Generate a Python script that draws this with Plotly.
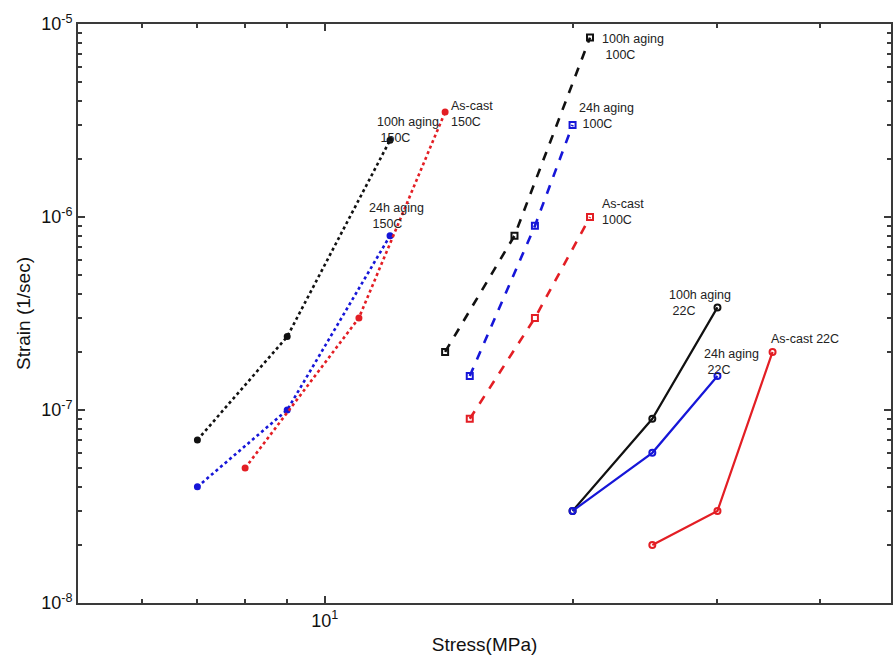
import math
import plotly.graph_objects as go

# Creep data: stress (MPa) vs. strain rate (1/sec)
stress_150_100h = [7, 9, 12]
rate_150_100h = [7e-8, 2.4e-7, 2.5e-6]
stress_150_24h = [7, 9, 12]
rate_150_24h = [4e-8, 1e-7, 8e-7]
stress_150_cast = [8, 11, 14]
rate_150_cast = [5e-8, 3e-7, 3.5e-6]

stress_100_100h = [14, 17, 21]
rate_100_100h = [2e-7, 8e-7, 8.5e-6]
stress_100_24h = [15, 18, 20]
rate_100_24h = [1.5e-7, 9e-7, 3e-6]
stress_100_cast = [15, 18, 21]
rate_100_cast = [9e-8, 3e-7, 1e-6]

stress_22_100h = [20, 25, 30]
rate_22_100h = [3e-8, 9e-8, 3.4e-7]
stress_22_24h = [20, 25, 30]
rate_22_24h = [3e-8, 6e-8, 1.5e-7]
stress_22_cast = [25, 30, 35]
rate_22_cast = [2e-8, 3e-8, 2e-7]

labels = [
    "100h aging<br>\u00a0150C", "24h aging<br>\u00a0150C", "As-cast<br>150C",
    "100h aging<br>\u00a0100C", "24h aging<br>\u00a0100C", "As-cast<br>100C",
    "100h aging<br>\u00a022C", "24h aging<br>\u00a022C", "As-cast 22C",
]

y_tickvals = [1e-8, 1e-7, 1e-6, 1e-5]
y_ticktext = ["10<sup>-8</sup>", "10<sup>-7</sup>", "10<sup>-6</sup>", "10<sup>-5</sup>"]
x_tickvals = [10]
x_ticktext = ["10<sup>1</sup>"]

BLACK = "#111111"
BLUE = "#1616d8"
RED = "#e31e24"
FONT = "Arial, Liberation Sans, sans-serif"

series = [
    (stress_150_100h, rate_150_100h, BLACK, "dot", "circle", 5),
    (stress_150_24h, rate_150_24h, BLUE, "dot", "circle", 5),
    (stress_150_cast, rate_150_cast, RED, "dot", "circle", 5),
    (stress_100_100h, rate_100_100h, BLACK, "dash", "square-open", 6),
    (stress_100_24h, rate_100_24h, BLUE, "dash", "square-open", 6),
    (stress_100_cast, rate_100_cast, RED, "dash", "square-open", 6),
    (stress_22_100h, rate_22_100h, BLACK, "solid", "circle-open", 6),
    (stress_22_24h, rate_22_24h, BLUE, "solid", "circle-open", 6),
    (stress_22_cast, rate_22_cast, RED, "solid", "circle-open", 6),
]

# label offsets (px) from each series' last point
offsets = [
    (-15, 10), (-23, 20), (4, -2),
    (10, -9), (4, 9), (10, 5),
    (-50, 4), (-15, 14), (-4, 13),
]

fig = go.Figure()
for (xs, ys, color, dash, symbol, msize) in series:
    lw = 2.6 if dash != "solid" else 2.2
    fig.add_trace(go.Scatter(
        x=xs, y=ys, mode="lines+markers",
        line=dict(color=color, width=lw, dash=dash),
        marker=dict(symbol=symbol, size=msize, color=color,
                    line=dict(color=color, width=2)),
        showlegend=False,
    ))

for (xs, ys, *_), text, (dx, dy) in zip(series, labels, offsets):
    fig.add_annotation(
        x=math.log10(xs[-1]), y=math.log10(ys[-1]), xref="x", yref="y",
        text=text, showarrow=False, xanchor="left", yanchor="middle",
        align="left", xshift=dx, yshift=dy,
        font=dict(family=FONT, size=12.5, color="#222222"),
    )

axis_common = dict(
    type="log", showgrid=False, zeroline=False,
    showline=True, linecolor="#3a3a3a", linewidth=2, mirror="allticks",
    ticks="inside", ticklen=7, tickwidth=1.5, tickcolor="#3a3a3a",
    tickfont=dict(family=FONT, size=18, color="#111111"),
)

fig.update_xaxes(
    **axis_common,
    range=[0.7, 1.688],
    tickmode="array", tickvals=x_tickvals, ticktext=x_ticktext,
    minor=dict(ticks="inside", ticklen=4, tickwidth=1.5, tickcolor="#3a3a3a",
               tickmode="array", tickvals=[5, 6, 7, 8, 9, 20, 30, 40, 50]),
    title=dict(text="Stress(MPa)", standoff=8,
               font=dict(family=FONT, size=19, color="#111111")),
)
fig.update_yaxes(
    **axis_common,
    range=[-8, -5],
    tickmode="array", tickvals=y_tickvals, ticktext=y_ticktext,
    minor=dict(ticks="inside", ticklen=4, tickwidth=1.5, tickcolor="#3a3a3a",
               tickmode="array",
               tickvals=[m * 10 ** e for e in (-8, -7, -6) for m in range(2, 10)]),
    title=dict(text="Strain (1/sec)", standoff=6,
               font=dict(family=FONT, size=19, color="#111111")),
)

fig.update_layout(
    width=893, height=662,
    margin=dict(l=78, r=0, t=24, b=59),
    paper_bgcolor="white", plot_bgcolor="white",
)

fig.write_html("out.html")
